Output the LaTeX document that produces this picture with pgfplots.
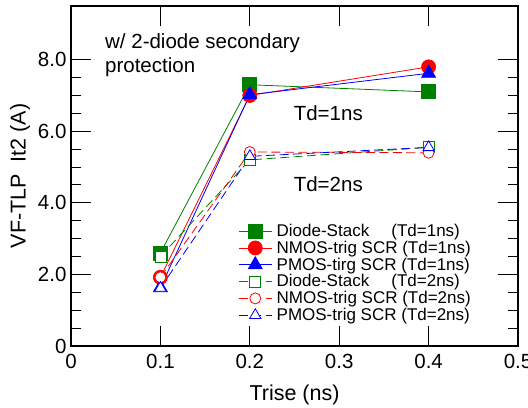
\documentclass[border=0pt]{standalone}
\usepackage{pgfplots}
\pgfplotsset{compat=1.18}
\usepackage{fontspec}
\setmainfont{Liberation Sans}

\definecolor{dgreen}{RGB}{0,128,0}

\begin{document}
\begin{tikzpicture}
\begin{axis}[
  scale only axis,
  width=447bp, height=340bp,
  xmin=0, xmax=0.5, ymin=0, ymax=9.5,
  xtick={0,0.1,0.2,0.3,0.4,0.5},
  xticklabels={0,0.1,0.2,0.3,0.4,0.5},
  ytick={0,2,4,6,8},
  yticklabels={0,2.0,4.0,6.0,8.0},
  minor y tick num=3,
  tick pos=both, tick align=inside,
  major tick length=20bp, minor tick length=10bp,
  every tick/.style={black, line width=0.9bp},
  axis line style={line width=1.1bp},
  /pgf/number format/assume math mode=true,
  tick label style={font=\fontsize{20.5bp}{24bp}\selectfont},
  xticklabel style={yshift=-5bp},
  yticklabel style={xshift=-1bp},
  xlabel={Trise (ns)},
  ylabel={VF-TLP\ \ It2 (A)},
  label style={font=\fontsize{21.5bp}{25bp}\selectfont},
  xlabel style={yshift=-9bp},
  ylabel style={yshift=1bp},
  legend cell align=left,
  legend style={draw=none, fill=none, at={(axis cs:0.187,3.45)}, anchor=north west,
    font=\fontsize{17bp}{19bp}\selectfont, row sep=0bp, inner sep=0pt,
    nodes={inner sep=1.5bp}},
  legend image code/.code={%
    \draw[mark repeat=2,mark phase=2] plot coordinates {(0bp,0bp) (16.5bp,0bp) (33bp,0bp)};
    \path (36bp,0bp);},
  solidplot/.style={line width=0.8bp, solid},
  dashplot/.style={line width=0.8bp, dash pattern=on 9bp off 4.5bp},
]
% Td = 1 ns (filled marks, solid lines)
\addplot[solidplot, dgreen, mark=square*, mark size=7bp, mark options={solid, fill=dgreen}]
  coordinates {(0.1,2.6) (0.2,7.3) (0.4,7.1)};
\addlegendentry{\makebox[6.75em][l]{Diode-Stack}(Td=1ns)}
\addplot[solidplot, red, mark=*, mark size=7bp, mark options={solid, fill=red}]
  coordinates {(0.1,1.92) (0.2,7.0) (0.4,7.8)};
\addlegendentry{NMOS-trig SCR (Td=1ns)}
\addplot[solidplot, blue, mark=triangle*, mark size=8bp, mark options={solid, fill=blue}]
  coordinates {(0.1,1.63) (0.2,7.02) (0.4,7.62)};
\addlegendentry{PMOS-tirg SCR (Td=1ns)}
% Td = 2 ns (open marks, dashed lines)
\addplot[dashplot, dgreen, mark=square*, mark size=5.5bp, mark options={solid, fill=white, line width=0.8bp}]
  coordinates {(0.1,2.5) (0.2,5.2) (0.4,5.55)};
\addlegendentry{\makebox[6.75em][l]{Diode-Stack}(Td=2ns)}
\addplot[dashplot, red, mark=*, mark size=5.5bp, mark options={solid, fill=white, line width=0.8bp}]
  coordinates {(0.1,1.92) (0.2,5.42) (0.4,5.4)};
\addlegendentry{NMOS-trig SCR (Td=2ns)}
\addplot[dashplot, blue, mark=triangle*, mark size=6.5bp, mark options={solid, fill=white, line width=0.8bp}]
  coordinates {(0.1,1.62) (0.2,5.3) (0.4,5.55)};
\addlegendentry{PMOS-trig SCR (Td=2ns)}

\node[anchor=north west, align=left, inner sep=0pt,
  font=\fontsize{20.5bp}{23.5bp}\selectfont] at (axis cs:0.038,8.72)
  {w/ 2-diode secondary\\protection};
\node[anchor=west, inner sep=0pt, font=\fontsize{20.5bp}{24bp}\selectfont]
  at (axis cs:0.249,6.5) {Td=1ns};
\node[anchor=west, inner sep=0pt, font=\fontsize{20.5bp}{24bp}\selectfont]
  at (axis cs:0.249,4.52) {Td=2ns};
\end{axis}
\pgfresetboundingbox
\path ([shift={(-71bp,-62bp)}]current axis.south west)
  rectangle ([shift={(10bp,6bp)}]current axis.north east);
\end{tikzpicture}
\end{document}
